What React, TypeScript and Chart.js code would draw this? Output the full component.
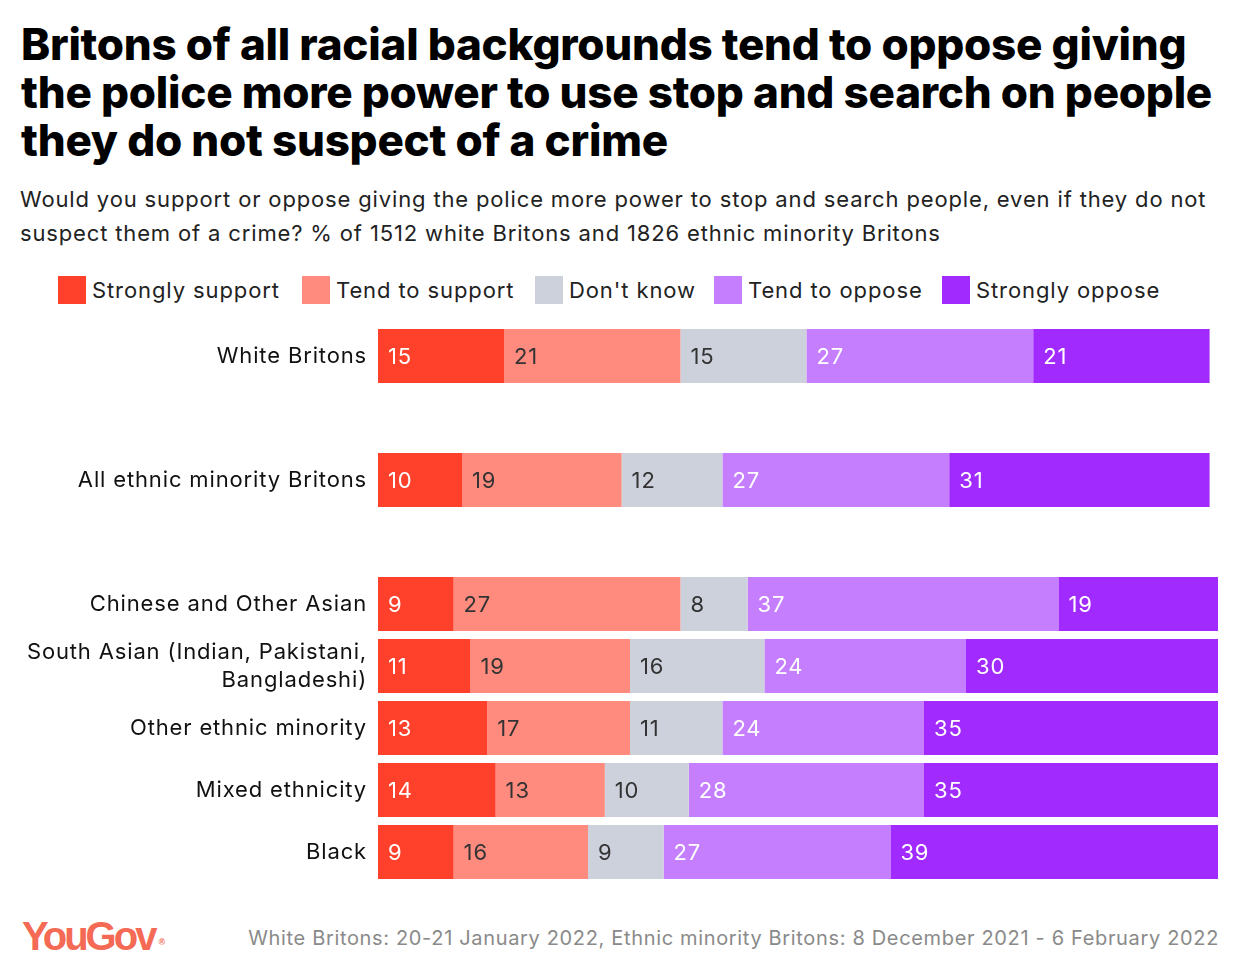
import React, { useEffect, useRef } from "react";
import { Chart, registerables } from "chart.js";

Chart.register(...registerables);

const titleLines = [
  "Britons of all racial backgrounds tend to oppose giving",
  "the police more power to use stop and search on people",
  "they do not suspect of a crime",
];
const subtitleLines = [
  "Would you support or oppose giving the police more power to stop and search people, even if they do not",
  "suspect them of a crime? % of 1512 white Britons and 1826 ethnic minority Britons",
];
const sourceText =
  "White Britons: 20-21 January 2022, Ethnic minority Britons: 8 December 2021 - 6 February 2022";

const categories: (string | string[])[] = [
  "White Britons",
  "All ethnic minority Britons",
  "Chinese and Other Asian",
  ["South Asian (Indian, Pakistani,", "Bangladeshi)"],
  "Other ethnic minority",
  "Mixed ethnicity",
  "Black",
];
const stronglySupport = [15, 10, 9, 11, 13, 14, 9];
const tendToSupport = [21, 19, 27, 19, 17, 13, 16];
const dontKnow = [15, 12, 8, 16, 11, 10, 9];
const tendToOppose = [27, 27, 37, 24, 24, 28, 27];
const stronglyOppose = [21, 31, 19, 30, 35, 35, 39];

const seriesNames = ["Strongly support", "Tend to support", "Don't know", "Tend to oppose", "Strongly oppose"];
const seriesValues = [stronglySupport, tendToSupport, dontKnow, tendToOppose, stronglyOppose];
const seriesColors = ["#ff412c", "#ff8b7e", "#cdd1dc", "#c57efd", "#a12afe"];
const valueTextColors = ["#ffffff", "#333333", "#333333", "#ffffff", "#ffffff"];
const legendX = [58, 302, 535, 714, 942];

// row layout: null = empty spacer row
const rowOrder: (number | null)[] = [0, null, 1, null, 2, 3, 4, 5, 6];

const FONT = "Inter, 'Noto Sans', sans-serif";
const SPACING = "0.85px";

const spacingPlugin = {
  id: "letterSpacing",
  beforeDraw(chart: any) {
    chart.ctx.letterSpacing = SPACING;
  },
};

const valueLabelPlugin = {
  id: "valueLabels",
  afterDatasetsDraw(chart: any) {
    const ctx = chart.ctx;
    ctx.save();
    ctx.letterSpacing = SPACING;
    ctx.font = `22px ${FONT}`;
    ctx.textBaseline = "middle";
    ctx.textAlign = "left";
    chart.data.datasets.forEach((ds: any, i: number) => {
      const meta = chart.getDatasetMeta(i);
      meta.data.forEach((el: any, j: number) => {
        const v = ds.data[j];
        if (v == null) return;
        const p = el.getProps(["x", "y", "base"], true);
        ctx.fillStyle = valueTextColors[i];
        ctx.fillText(String(v), Math.min(p.x, p.base) + 10, p.y + 1);
      });
    });
    ctx.restore();
  },
};

export default function App() {
  const canvasRef = useRef<HTMLCanvasElement | null>(null);

  useEffect(() => {
    if (!canvasRef.current) return;
    const labels = rowOrder.map((r) => (r == null ? "" : categories[r]));
    const datasets = seriesNames.map((name, i) => ({
      label: name,
      data: rowOrder.map((r) => (r == null ? null : seriesValues[i][r])),
      backgroundColor: seriesColors[i],
      borderWidth: 0,
      categoryPercentage: 1,
      barPercentage: 54 / 62,
    }));
    const chart = new Chart(canvasRef.current, {
      type: "bar",
      data: { labels, datasets: datasets as any },
      options: {
        indexAxis: "y",
        animation: false,
        responsive: false,
        maintainAspectRatio: false,
        layout: { padding: { left: 0, right: 22, top: 5, bottom: 7 } },
        plugins: { legend: { display: false }, tooltip: { enabled: false } },
        scales: {
          x: { stacked: true, min: 0, max: 100, display: false },
          y: {
            stacked: true,
            grid: { display: false, drawTicks: false },
            border: { display: false },
            ticks: {
              padding: 11,
              color: "#111111",
              font: { family: FONT, size: 22, lineHeight: 1.27 },
            },
            afterFit: (scale: any) => {
              scale.width = 378;
              scale.paddingTop = 0;
              scale.paddingBottom = 0;
            },
          },
        },
      },
      plugins: [spacingPlugin, valueLabelPlugin],
    });
    return () => chart.destroy();
  }, []);

  return (
    <div
      style={{
        position: "absolute",
        left: 0,
        top: 0,
        width: 1240,
        height: 978,
        background: "#ffffff",
        fontFamily: FONT,
        overflow: "hidden",
      }}
    >
      <div
        style={{
          position: "absolute",
          left: 21,
          top: 20,
          fontSize: 44,
          fontWeight: 800,
          lineHeight: "48px",
          color: "#000",
          letterSpacing: "-0.25px",
          whiteSpace: "nowrap",
        }}
      >
        {titleLines.map((l, i) => (
          <div key={i}>{l}</div>
        ))}
      </div>
      <div
        style={{
          position: "absolute",
          left: 20,
          top: 182,
          fontSize: 22,
          lineHeight: "34px",
          color: "#222",
          letterSpacing: "0.85px",
          whiteSpace: "nowrap",
        }}
      >
        {subtitleLines.map((l, i) => (
          <div key={i}>{l}</div>
        ))}
      </div>
      {seriesNames.map((n, i) => (
        <div
          key={n}
          style={{
            position: "absolute",
            left: legendX[i],
            top: 276,
            height: 28,
            display: "flex",
            alignItems: "center",
            fontSize: 22,
            color: "#222",
            letterSpacing: "0.9px",
            whiteSpace: "nowrap",
          }}
        >
          <div style={{ width: 28, height: 28, background: seriesColors[i], marginRight: 6 }} />
          <span>{n}</span>
        </div>
      ))}
      <div style={{ position: "absolute", left: 0, top: 320, width: 1240, height: 570 }}>
        <canvas ref={canvasRef} width={1240} height={570} />
      </div>
      <div
        style={{
          position: "absolute",
          left: 22,
          top: 912,
          fontFamily: "'Liberation Sans', Arial, sans-serif",
          fontWeight: 700,
          fontSize: 40,
          letterSpacing: "-3px",
          color: "#f46a55",
          lineHeight: "48px",
        }}
      >
        YouGov
        <sup style={{ fontSize: 9, letterSpacing: 0, verticalAlign: "top", position: "relative", top: 6, left: 4 }}>®</sup>
      </div>
      <div
        style={{
          position: "absolute",
          right: 21,
          top: 924,
          fontSize: 20,
          color: "#8a8a8a",
          letterSpacing: "0.66px",
          whiteSpace: "nowrap",
          lineHeight: "28px",
        }}
      >
        {sourceText}
      </div>
    </div>
  );
}
